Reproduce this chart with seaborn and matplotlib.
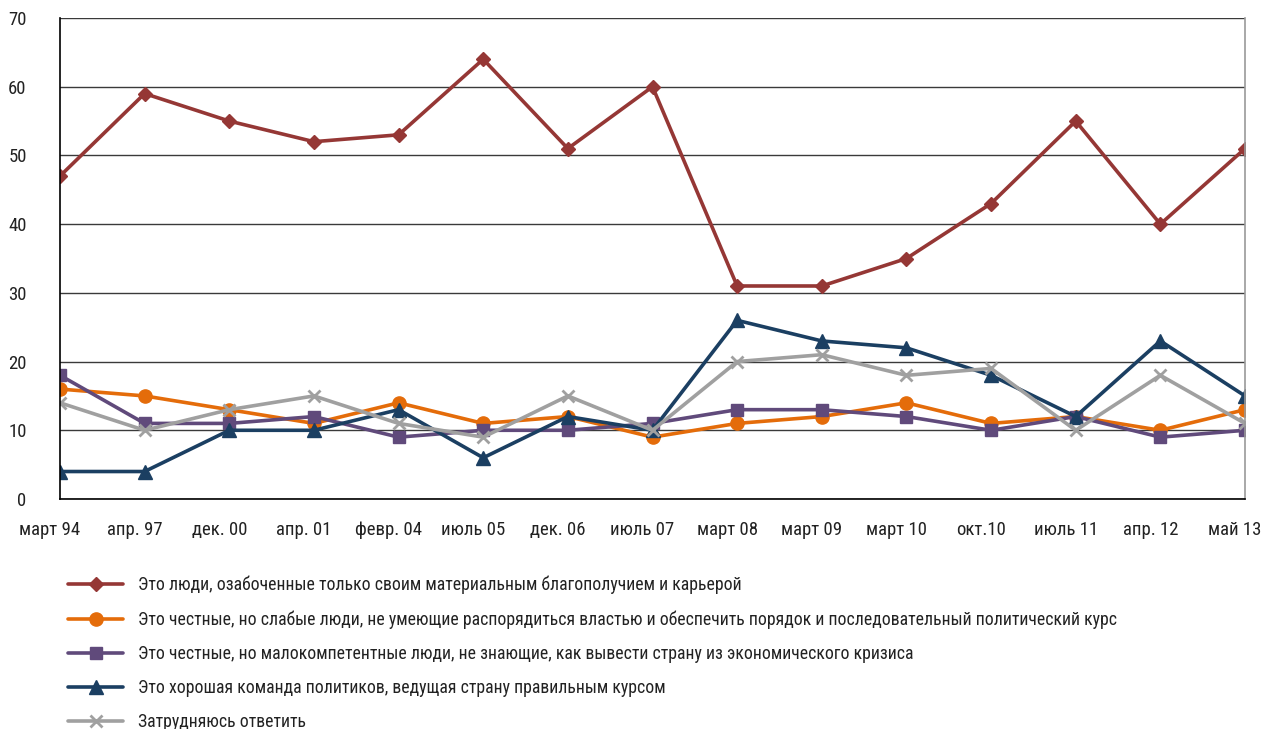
import matplotlib
matplotlib.use("Agg")
import matplotlib.pyplot as plt
import matplotlib.transforms as mtransforms
import seaborn as sns
import pandas as pd
from matplotlib import font_manager

periods = ["март 94", "апр. 97", "дек. 00", "апр. 01", "февр. 04", "июль 05", "дек. 06",
           "июль 07", "март 08", "март 09", "март 10", "окт.10", "июль 11", "апр. 12", "май 13"]

s_material = [47, 59, 55, 52, 53, 64, 51, 60, 31, 31, 35, 43, 55, 40, 51]
s_weak = [16, 15, 13, 11, 14, 11, 12, 9, 11, 12, 14, 11, 12, 10, 13]
s_incompetent = [18, 11, 11, 12, 9, 10, 10, 11, 13, 13, 12, 10, 12, 9, 10]
s_good_team = [4, 4, 10, 10, 13, 6, 12, 10, 26, 23, 22, 18, 12, 23, 15]
s_hard = [14, 10, 13, 15, 11, 9, 15, 10, 20, 21, 18, 19, 10, 18, 11]

labels = [
    "Это люди, озабоченные только своим материальным благополучием и карьерой",
    "Это честные, но слабые люди, не умеющие распорядиться властью и обеспечить порядок и последовательный политический курс",
    "Это честные, но малокомпетентные люди, не знающие, как вывести страну из экономического кризиса",
    "Это хорошая команда политиков, ведущая страну правильным курсом",
    "Затрудняюсь ответить",
]
series = [s_material, s_weak, s_incompetent, s_good_team, s_hard]
colors = ["#953735", "#E46C0A", "#604A7B", "#1B3F62", "#A0A0A0"]
markers = ["D", "o", "s", "^", "x"]
msizes = [7.5, 9.5, 9, 9.5, 9]

sns.set_theme(style="white")
avail = {f.name for f in font_manager.fontManager.ttflist}
fam = "Roboto"
for cand in ["Roboto Condensed", "Liberation Sans Narrow", "Arial Narrow"]:
    if cand in avail:
        fam = cand
        break
plt.rcParams["font.family"] = [fam, "DejaVu Sans"]
condensed = fam != "Roboto"
tick_fs = 13.5 if condensed else 12
leg_fs = 12.8 if condensed else 11.4

rows = []
for lab, vals in zip(labels, series):
    for i, v in enumerate(vals):
        rows.append({"x": i, "value": v, "series": lab})
df = pd.DataFrame(rows)

fig = plt.figure(figsize=(12.61, 7.29), dpi=100)
ax = fig.add_axes([60 / 1261, 1 - 499 / 729, (1245 - 60) / 1261, (499 - 18) / 729])

for lab, col, mk, ms in zip(labels, colors, markers, msizes):
    sub = df[df["series"] == lab]
    sns.lineplot(data=sub, x="x", y="value", ax=ax, color=col, linewidth=2.6,
                 marker=mk, markersize=ms, markeredgecolor=col,
                 markeredgewidth=2 if mk == "x" else 1, label=lab, sort=False)

ax.set_xlim(0, len(periods) - 1)
ax.set_ylim(0, 70)
ax.set_yticks(range(0, 71, 10))
ax.set_xticks(range(len(periods)))
ax.set_xticklabels(periods)
ax.set_xlabel("")
ax.set_ylabel("")
ax.grid(axis="y", color="#3a3a3a", linewidth=1)
ax.grid(axis="x", visible=False)
ax.set_axisbelow(True)
ax.spines["top"].set_visible(False)
ax.spines["left"].set_color("#000000")
ax.spines["bottom"].set_color("#000000")
ax.spines["right"].set_color("#999999")
for sp in ["left", "bottom", "right"]:
    ax.spines[sp].set_linewidth(1.2)
ax.tick_params(axis="both", which="both", direction="out", length=7, width=1,
               color="#000000", labelsize=tick_fs, labelcolor="#222222")
ax.tick_params(axis="x", pad=9)
ax.tick_params(axis="y", pad=17)

shift = mtransforms.ScaledTranslation(-10 / 100, 0, fig.dpi_scale_trans)
for t in ax.get_xticklabels():
    t.set_transform(t.get_transform() + shift)

ax.get_legend().remove()
handles, labs = ax.get_legend_handles_labels()
fig.legend(handles, labs, loc="upper left", bbox_to_anchor=(52 / 1261, 1 - 560 / 729),
           frameon=False, fontsize=leg_fs, labelspacing=0.9, handlelength=3.1,
           handletextpad=0.85, labelcolor="#222222")

fig.savefig("out.png", dpi=100)
